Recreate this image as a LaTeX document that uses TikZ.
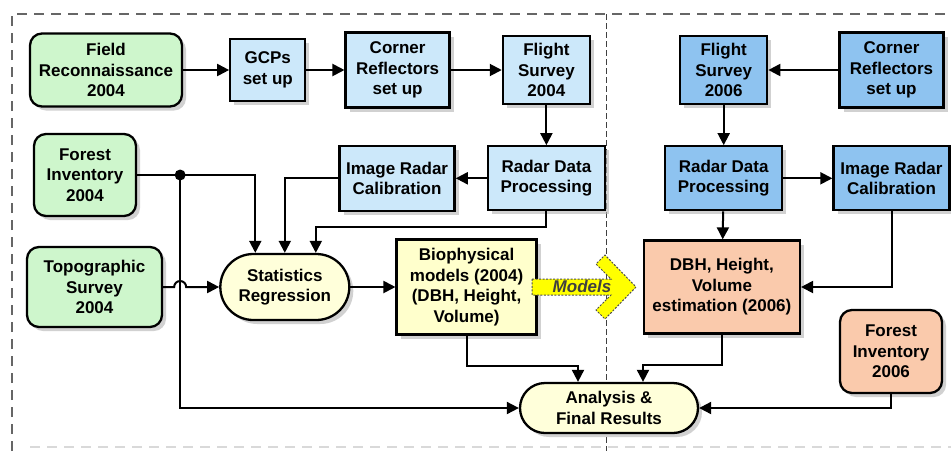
\documentclass[tikz,border=0pt]{standalone}
\usepackage{fontspec}
\setmainfont{Liberation Sans}
\usetikzlibrary{positioning,arrows.meta,shadows}

\definecolor{greenfill}{RGB}{206,246,204}
\definecolor{bluelight}{RGB}{204,232,250}
\definecolor{bluedark}{RGB}{142,195,240}
\definecolor{yellowfill}{RGB}{255,255,204}
\definecolor{salmonfill}{RGB}{250,202,172}
\definecolor{pillfill}{RGB}{255,255,218}
\definecolor{modelyellow}{RGB}{255,255,0}

\tikzset{
  base/.style={draw, line width=2.3pt, align=center, inner sep=2pt,
    font=\bfseries\fontsize{17}{20.5}\selectfont,
    drop shadow={shadow xshift=4pt, shadow yshift=-4pt, fill=black!30, opacity=0.6}},
  greenbox/.style={base, fill=greenfill, rounded corners=12pt},
  lightbox/.style={base, fill=bluelight},
  darkbox/.style={base, fill=bluedark},
  modelbox/.style={base, fill=yellowfill},
  estbox/.style={base, fill=salmonfill},
  pill/.style={base, fill=pillfill, rounded corners=#1},
  arr/.style={line width=2pt, -{Triangle[length=12pt,width=12pt]}},
}

\begin{document}
\begin{tikzpicture}[x=1pt, y=-1pt]
	\useasboundingbox (0,0) rectangle (951,451);
	
	% frame and divider
	\draw[black!60, line width=1.5pt, dash pattern=on 10pt off 7pt] (12,451) -- (12,14) -- (951,14);
	\draw[black!15, line width=1.2pt, dash pattern=on 10pt off 7pt] (30,447) -- (951,447);
	\draw[black!75, line width=1pt, dash pattern=on 6pt off 3pt] (606,14) -- (606,451);
	
	% 2004 side
	\node[greenbox, minimum width=152pt, minimum height=73pt] (field) at (106,70) {Field\\Reconnaissance\\2004};
	\node[lightbox, minimum width=75pt, minimum height=62pt, right=46pt of field] (gcp) {GCPs\\set up};
	\node[lightbox, minimum width=104pt, minimum height=75pt, right=38pt of gcp] (corner1) {Corner\\Reflectors\\set up};
	\node[lightbox, minimum width=87pt, minimum height=68pt, right=51pt of corner1] (flight1) {Flight\\Survey\\2004};
	\node[lightbox, minimum width=117pt, minimum height=64pt, below=40pt of flight1] (rdp1) {Radar Data\\Processing};
	\node[lightbox, minimum width=115pt, minimum height=65pt, left=31pt of rdp1] (irc1) {Image Radar\\Calibration};
	\node[greenbox, minimum width=102pt, minimum height=82pt] (forest1) at (85,175) {Forest\\Inventory\\2004};
	\node[greenbox, minimum width=135pt, minimum height=80pt] (topo) at (94.5,287) {Topographic\\Survey\\2004};
	\node[pill=33pt, minimum width=129pt, minimum height=66pt, right=56pt of topo] (stat) {Statistics\\Regression};
	\node[modelbox, minimum width=140pt, minimum height=95pt, right=45pt of stat] (bio) {Biophysical\\models (2004)\\(DBH, Height,\\Volume)};
	
	% 2006 side
	\node[darkbox, minimum width=87pt, minimum height=68pt, right=88pt of flight1] (flight2) {Flight\\Survey\\2006};
	\node[darkbox, minimum width=104pt, minimum height=75pt, right=70pt of flight2] (corner2) {Corner\\Reflectors\\set up};
	\node[darkbox, minimum width=117pt, minimum height=64pt, below=40pt of flight2] (rdp2) {Radar Data\\Processing};
	\node[darkbox, minimum width=116pt, minimum height=64pt, right=49pt of rdp2] (irc2) {Image Radar\\Calibration};
	\node[estbox, minimum width=156pt, minimum height=93pt, right=105pt of bio] (dbh) {DBH, Height,\\Volume\\estimation (2006)};
	\node[estbox, rounded corners=12pt, minimum width=102pt, minimum height=83pt] (forest2) at (891,351.5) {Forest\\Inventory\\2006};
	\node[pill=25pt, minimum width=178pt, minimum height=50pt] (analysis) at (609,408) {Analysis \&\\Final Results};
	
	% models arrow
	\draw[fill=modelyellow, draw=black!70, line width=1pt, dash pattern=on 2pt off 1.5pt]
		(532,279) -- (611,279) -- (596,264) -- (605,255) -- (636,287)
		-- (605,319) -- (596,310) -- (611,295) -- (532,295) -- cycle;
	\node[font=\bfseries\itshape\fontsize{17}{19}\selectfont, text=black!75] (modelstext) at (582,286) {Models};
	
	% connectors 2004
	\draw[arr] (field) -- (gcp);
	\draw[arr] (gcp) -- (corner1);
	\draw[arr] (corner1) -- (flight1);
	\draw[arr] (flight1) -- (rdp1);
	\draw[arr] (rdp1) -- (irc1);
	\coordinate (split) at ([xshift=43pt]forest1.east);
	\draw[arr] (forest1.east) -| ([xshift=-29.5pt]stat.north);
	\fill (split) circle (5.5pt);
	\draw[arr] (split) |- (analysis.west);
	\draw[arr] (irc1.west) -| (stat.north);
	\draw[arr] (rdp1.south) -- ++(0,16) -| ([xshift=31pt]stat.north);
	\coordinate (hop) at (split |- topo.east);
	\draw[arr] (topo.east) -- ([xshift=-6pt]hop) arc[start angle=180, end angle=0, radius=6pt] -- (stat.west);
	\draw[arr] (stat) -- (bio);
	\draw[arr] (bio.south) -- ++(0,30) -| ([xshift=-31pt]analysis.north);
	
	% connectors 2006
	\draw[arr] (corner2) -- (flight2);
	\draw[arr] (flight2) -- (rdp2);
	\draw[arr] (rdp2) -- (irc2);
	\draw[arr] (rdp2) -- (dbh);
	\draw[arr] (irc2.south) |- (dbh.east);
	\draw[arr] (dbh.south) -- ++(0,30) -| ([xshift=34pt]analysis.north);
	\draw[arr] (forest2.south) |- (analysis.east);
\end{tikzpicture}
\end{document}
